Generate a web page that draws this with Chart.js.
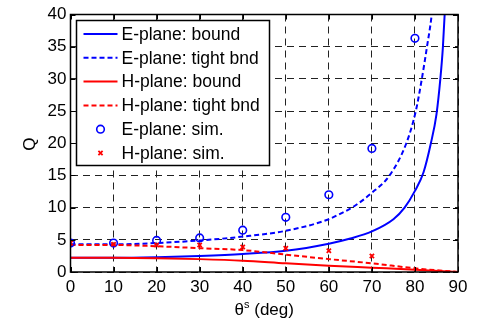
<!DOCTYPE html>
<html>
<head>
<meta charset="utf-8">
<script src="https://cdn.jsdelivr.net/npm/chart.js@4.4.1/dist/chart.umd.min.js"></script>
<style>
  html, body { margin: 0; padding: 0; background: #fff; }
  #wrap { width: 480px; height: 322px; }
</style>
</head>
<body>
<div id="wrap"><canvas id="chart"></canvas></div>
<script>
// Q against theta^s (deg)

// E-plane bound (solid blue)
const eBoundDeg = [0, 10, 20, 30, 40, 50, 60, 65, 70, 75, 77.6, 80, 82, 83.7, 85, 85.9, 86.5, 86.9, 87.3];
const eBoundQ   = [2.2, 2.2, 2.3, 2.5, 2.8, 3.3, 4.4, 5.2, 6.3, 8.2, 10, 12.6, 15.5, 20, 24.5, 30, 35, 40, 46];

// E-plane tight bound (dashed blue)
const eTightDeg = [0, 10, 20, 30, 40, 50, 60, 62.5, 65.6, 70, 74.1, 78, 80.2, 81.6, 82.8, 83.9, 85];
const eTightQ   = [4.3, 4.3, 4.5, 4.9, 5.5, 6.4, 8.2, 9.0, 10.1, 12.3, 15, 20, 25, 30, 35, 40, 48];

// H-plane bound / tight bound (red)
const hDeg    = [0, 10, 20, 30, 40, 50, 60, 70, 80, 90];
const hBoundQ = [2.2, 2.2, 2.15, 2.0, 1.76, 1.35, 0.98, 0.67, 0.36, 0];
const hTightQ = [4.2, 4.2, 4.0, 3.7, 3.4, 2.7, 2.0, 1.35, 0.57, 0];

// simulated points
const eSimDeg = [0, 10, 20, 30, 40, 50, 60, 70, 80];
const eSimQ   = [4.5, 4.5, 4.9, 5.3, 6.5, 8.5, 12.0, 19.2, 36.3];
const hSimDeg = [0, 10, 20, 30, 40, 50, 60, 70];
const hSimQ   = [4.5, 4.3, 4.2, 4.2, 3.9, 3.7, 3.3, 2.5];

const labels = ['E-plane: bound', 'E-plane: tight bnd', 'H-plane: bound',
                'H-plane: tight bnd', 'E-plane: sim.', 'H-plane: sim.'];

const BLUE = '#0000ff';
const RED = '#ff0000';
const FONT = 'Arial, "Liberation Sans", sans-serif';

const pts = (xs, ys) => xs.map((x, i) => ({ x: x, y: ys[i] }));

const lineSet = (label, data, color, dash, order) => ({
  label, data, order,
  showLine: true,
  borderColor: color,
  borderWidth: 2,
  borderDash: dash,
  pointRadius: 0,
  cubicInterpolationMode: 'monotone',
  fill: false,
});

// frame, inner ticks and axis titles, MATLAB style
const frame = {
  id: 'frame',
  afterDraw(chart) {
    const { ctx, chartArea: a, scales } = chart;
    ctx.save();
    ctx.strokeStyle = '#000';
    ctx.lineWidth = 1;
    ctx.beginPath();
    scales.x.ticks.forEach(t => {
      const px = Math.round(scales.x.getPixelForValue(t.value)) + 0.5;
      ctx.moveTo(px, a.bottom); ctx.lineTo(px, a.bottom - 5);
      ctx.moveTo(px, a.top); ctx.lineTo(px, a.top + 5);
    });
    scales.y.ticks.forEach(t => {
      const py = Math.round(scales.y.getPixelForValue(t.value)) + 0.5;
      ctx.moveTo(a.left, py); ctx.lineTo(a.left + 5, py);
      ctx.moveTo(a.right, py); ctx.lineTo(a.right - 5, py);
    });
    ctx.stroke();
    ctx.lineWidth = 1.5;
    ctx.strokeRect(a.left, a.top, a.right - a.left, a.bottom - a.top);

    // y title
    ctx.fillStyle = '#000';
    ctx.font = '17px ' + FONT;
    ctx.textAlign = 'center';
    ctx.textBaseline = 'middle';
    ctx.translate(30, (a.top + a.bottom) / 2 + 1);
    ctx.rotate(-Math.PI / 2);
    ctx.fillText('Q', 0, 0);
    ctx.setTransform(1, 0, 0, 1, 0, 0);

    // x title: theta with superscript s
    ctx.textAlign = 'left';
    ctx.textBaseline = 'alphabetic';
    const big = '17px ' + FONT, small = '11px ' + FONT;
    ctx.font = big;
    const w1 = ctx.measureText('θ').width;
    const w3 = ctx.measureText(' (deg)').width;
    ctx.font = small;
    const w2 = ctx.measureText('s').width;
    let x = (a.left + a.right) / 2 - (w1 + w2 + w3) / 2;
    const base = 315;
    ctx.font = big; ctx.fillText('θ', x, base); x += w1;
    ctx.font = small; ctx.fillText('s', x, base - 7); x += w2;
    ctx.font = big; ctx.fillText(' (deg)', x, base);
    ctx.restore();
  }
};

// legend box inside the axes
const legendBox = {
  id: 'legendBox',
  afterDatasetsDraw(chart) {
    const { ctx, chartArea: a } = chart;
    const x0 = a.left + 6, y0 = a.top + 6, w = 193, h = 145;
    ctx.save();
    ctx.fillStyle = '#fff';
    ctx.fillRect(x0, y0, w, h);
    ctx.strokeStyle = '#000';
    ctx.lineWidth = 1.5;
    ctx.strokeRect(x0, y0, w, h);
    ctx.font = '17.5px ' + FONT;
    ctx.textBaseline = 'middle';
    chart.data.datasets.forEach((ds, i) => {
      const y = y0 + 13.5 + i * 23.8;
      if (ds.showLine) {
        ctx.setLineDash(ds.borderDash || []);
        ctx.strokeStyle = ds.borderColor;
        ctx.lineWidth = ds.borderWidth;
        ctx.beginPath();
        ctx.moveTo(x0 + 7, y); ctx.lineTo(x0 + 41, y);
        ctx.stroke();
        ctx.setLineDash([]);
      } else {
        ctx.strokeStyle = ds.borderColor;
        ctx.lineWidth = ds.pointBorderWidth;
        ctx.beginPath();
        const cx = x0 + 24, r = ds.pointRadius;
        if (ds.pointStyle === 'circle') {
          ctx.arc(cx, y, r, 0, Math.PI * 2);
        } else {
          ctx.moveTo(cx - r * 0.7, y - r * 0.7); ctx.lineTo(cx + r * 0.7, y + r * 0.7);
          ctx.moveTo(cx - r * 0.7, y + r * 0.7); ctx.lineTo(cx + r * 0.7, y - r * 0.7);
        }
        ctx.stroke();
      }
      ctx.fillStyle = '#000';
      ctx.fillText(ds.label, x0 + 45, y + 1);
    });
    ctx.restore();
  }
};

const ctx = document.getElementById('chart').getContext('2d');
new Chart(ctx, {
  type: 'scatter',
  data: {
    datasets: [
      lineSet(labels[0], pts(eBoundDeg, eBoundQ), BLUE, [], 5),
      lineSet(labels[1], pts(eTightDeg, eTightQ), BLUE, [5, 3], 4),
      lineSet(labels[2], pts(hDeg, hBoundQ), RED, [], 3),
      lineSet(labels[3], pts(hDeg, hTightQ), RED, [5, 3], 2),
      {
        label: labels[4], data: pts(eSimDeg, eSimQ), order: 1,
        showLine: false, pointStyle: 'circle', pointRadius: 3.8,
        pointBorderWidth: 1.6, borderColor: BLUE, pointBorderColor: BLUE,
        pointBackgroundColor: 'rgba(0,0,0,0)',
      },
      {
        label: labels[5], data: pts(hSimDeg, hSimQ), order: 0,
        showLine: false, pointStyle: 'crossRot', pointRadius: 3,
        pointBorderWidth: 1.8, borderColor: RED, pointBorderColor: RED,
        pointBackgroundColor: RED,
      },
    ],
  },
  options: {
    responsive: true,
    maintainAspectRatio: false,
    animation: false,
    layout: { padding: { left: 0, top: 14.5, right: 22, bottom: 0 } },
    plugins: { legend: { display: false }, tooltip: { enabled: false } },
    scales: {
      x: {
        type: 'linear', min: 0, max: 90,
        ticks: { stepSize: 10, color: '#000', font: { size: 17, family: FONT }, padding: 5, maxRotation: 0 },
        grid: { color: '#222', lineWidth: 1, drawTicks: false },
        border: { display: false, dash: [7, 5] },
        afterFit(scale) { scale.height = 50; },
      },
      y: {
        min: 0, max: 40,
        ticks: { stepSize: 5, color: '#000', font: { size: 17, family: FONT }, padding: 4 },
        grid: { color: '#222', lineWidth: 1, drawTicks: false },
        border: { display: false, dash: [7, 5] },
        afterFit(scale) { scale.width = 70.5; },
      },
    },
  },
  plugins: [frame, legendBox],
});
</script>
</body>
</html>
